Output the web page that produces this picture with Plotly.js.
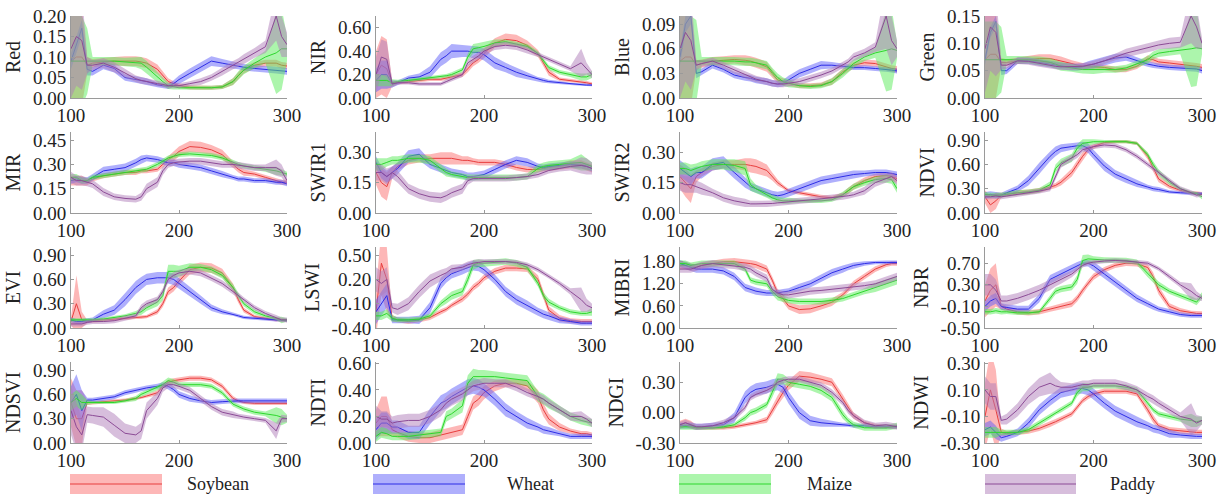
<!DOCTYPE html>
<html>
<head>
<meta charset="utf-8">
<script src="https://cdn.plot.ly/plotly-3.0.1.min.js"></script>
<style>html,body{margin:0;padding:0;background:#fff;}#chart{width:1222px;height:495px;}</style>
</head>
<body>
<div id="chart"></div>
<script>
// ---------- DATA ----------
const DAYS = [100,105,110,115,120,130,140,150,160,165,170,180,185,190,195,200,210,220,230,240,250,255,260,270,280,290,295,300];
const CROPS = ['Soybean','Wheat','Maize','Paddy'];
const INDICES = ['Red','NIR','Blue','Green','MIR','SWIR1','SWIR2','NDVI','EVI','LSWI','MIBRI','NBR','NDSVI','NDTI','NDGI','NDWI'];

const RED_SOY = [0.09,0.10,0.10,0.08,0.085,0.088,0.09,0.09,0.09,0.088,0.085,0.07,0.055,0.04,0.035,0.03,0.026,0.025,0.025,0.027,0.04,0.055,0.068,0.08,0.085,0.085,0.08,0.078];
const RED_SOY_SD = [0.12,0.12,0.12,0.02,0.01,0.01,0.01,0.012,0.012,0.012,0.012,0.012,0.01,0.008,0.006,0.005,0.005,0.005,0.005,0.005,0.008,0.008,0.008,0.008,0.008,0.008,0.008,0.008];
const RED_WHE = [0.09,0.13,0.17,0.07,0.065,0.08,0.072,0.05,0.045,0.042,0.04,0.032,0.03,0.028,0.035,0.045,0.06,0.075,0.09,0.085,0.08,0.078,0.075,0.072,0.07,0.068,0.067,0.065];
const RED_WHE_SD = [0.02,0.02,0.02,0.015,0.01,0.01,0.01,0.008,0.008,0.008,0.008,0.006,0.006,0.006,0.008,0.01,0.012,0.012,0.012,0.01,0.008,0.008,0.008,0.008,0.008,0.008,0.008,0.008];
const RED_MAI = [0.09,0.09,0.09,0.09,0.09,0.09,0.09,0.088,0.087,0.085,0.075,0.05,0.04,0.03,0.027,0.025,0.025,0.025,0.025,0.027,0.04,0.055,0.068,0.085,0.1,0.11,0.12,0.12];
const RED_MAI_SD = [0.11,0.11,0.11,0.08,0.01,0.01,0.01,0.01,0.012,0.015,0.015,0.012,0.01,0.008,0.006,0.005,0.005,0.005,0.005,0.005,0.008,0.01,0.01,0.012,0.015,0.1,0.1,0.03];
const RED_PAD = [0.12,0.15,0.14,0.08,0.08,0.085,0.075,0.06,0.047,0.043,0.04,0.035,0.033,0.03,0.03,0.03,0.035,0.04,0.05,0.065,0.08,0.087,0.095,0.11,0.125,0.2,0.15,0.13];
const RED_PAD_SD = [0.12,0.12,0.12,0.02,0.012,0.012,0.012,0.01,0.008,0.008,0.008,0.006,0.006,0.006,0.006,0.006,0.006,0.008,0.008,0.01,0.01,0.01,0.012,0.012,0.015,0.06,0.05,0.03];

const NIR_SOY = [0.2,0.28,0.25,0.12,0.13,0.14,0.15,0.16,0.16,0.17,0.18,0.2,0.25,0.3,0.33,0.38,0.47,0.5,0.49,0.45,0.38,0.3,0.22,0.16,0.15,0.14,0.13,0.12];
const NIR_SOY_SD = [0.2,0.25,0.25,0.02,0.015,0.015,0.015,0.015,0.015,0.015,0.02,0.02,0.03,0.03,0.03,0.04,0.04,0.05,0.05,0.04,0.03,0.03,0.03,0.015,0.015,0.015,0.015,0.015];
const NIR_WHE = [0.15,0.2,0.2,0.12,0.13,0.17,0.18,0.22,0.33,0.36,0.4,0.4,0.4,0.39,0.39,0.37,0.3,0.26,0.22,0.19,0.16,0.15,0.14,0.13,0.12,0.115,0.11,0.11];
const NIR_WHE_SD = [0.1,0.12,0.12,0.03,0.02,0.02,0.03,0.05,0.06,0.06,0.06,0.05,0.05,0.05,0.05,0.05,0.05,0.04,0.04,0.03,0.02,0.02,0.015,0.015,0.01,0.01,0.01,0.01];
const NIR_MAI = [0.15,0.15,0.15,0.13,0.14,0.15,0.16,0.17,0.18,0.19,0.2,0.24,0.35,0.42,0.43,0.44,0.47,0.48,0.46,0.44,0.38,0.32,0.26,0.22,0.2,0.18,0.18,0.2];
const NIR_MAI_SD = [0.05,0.05,0.05,0.03,0.015,0.015,0.015,0.015,0.015,0.015,0.02,0.02,0.03,0.04,0.04,0.04,0.03,0.02,0.02,0.02,0.02,0.02,0.02,0.02,0.02,0.03,0.03,0.03];
const NIR_PAD = [0.2,0.35,0.33,0.12,0.13,0.13,0.12,0.12,0.12,0.14,0.16,0.2,0.3,0.33,0.36,0.4,0.44,0.45,0.44,0.41,0.37,0.35,0.33,0.29,0.25,0.3,0.25,0.2];
const NIR_PAD_SD = [0.15,0.15,0.15,0.03,0.015,0.015,0.015,0.015,0.015,0.02,0.02,0.02,0.03,0.03,0.03,0.03,0.03,0.03,0.03,0.03,0.02,0.02,0.02,0.02,0.02,0.12,0.05,0.03];

const BLU_SOY = [0.045,0.05,0.05,0.04,0.042,0.045,0.046,0.047,0.046,0.045,0.043,0.038,0.03,0.022,0.02,0.018,0.015,0.015,0.016,0.02,0.032,0.036,0.04,0.043,0.042,0.038,0.036,0.035];
const BLU_SOY_SD = [0.06,0.06,0.06,0.006,0.005,0.005,0.005,0.005,0.006,0.006,0.006,0.006,0.005,0.004,0.004,0.003,0.003,0.003,0.003,0.004,0.004,0.004,0.004,0.004,0.004,0.004,0.004,0.004];
const BLU_WHE = [0.05,0.09,0.1,0.03,0.032,0.04,0.035,0.028,0.025,0.024,0.022,0.02,0.018,0.017,0.018,0.022,0.03,0.035,0.04,0.04,0.039,0.038,0.037,0.037,0.036,0.035,0.034,0.033];
const BLU_WHE_SD = [0.01,0.01,0.01,0.006,0.004,0.004,0.004,0.004,0.004,0.004,0.004,0.004,0.004,0.004,0.004,0.005,0.005,0.005,0.005,0.004,0.003,0.003,0.003,0.003,0.003,0.003,0.003,0.003];
const BLU_MAI = [0.045,0.045,0.045,0.045,0.045,0.045,0.045,0.045,0.044,0.044,0.043,0.04,0.032,0.025,0.02,0.018,0.015,0.014,0.015,0.02,0.03,0.036,0.042,0.05,0.055,0.058,0.06,0.058];
const BLU_MAI_SD = [0.055,0.055,0.055,0.05,0.005,0.005,0.005,0.005,0.005,0.005,0.005,0.005,0.005,0.005,0.005,0.005,0.003,0.003,0.003,0.004,0.005,0.005,0.005,0.005,0.006,0.05,0.05,0.01];
const BLU_PAD = [0.06,0.08,0.07,0.04,0.042,0.045,0.04,0.034,0.028,0.025,0.023,0.02,0.018,0.017,0.017,0.018,0.02,0.024,0.028,0.033,0.04,0.044,0.05,0.055,0.062,0.1,0.07,0.06];
const BLU_PAD_SD = [0.06,0.06,0.06,0.006,0.004,0.004,0.004,0.004,0.004,0.004,0.004,0.004,0.004,0.004,0.004,0.004,0.004,0.004,0.004,0.004,0.004,0.004,0.005,0.005,0.006,0.04,0.03,0.01];

const GRN_SOY = [0.07,0.08,0.08,0.065,0.065,0.068,0.07,0.072,0.072,0.07,0.068,0.063,0.06,0.058,0.057,0.057,0.056,0.052,0.052,0.058,0.072,0.07,0.066,0.064,0.062,0.06,0.058,0.056];
const GRN_SOY_SD = [0.08,0.08,0.08,0.008,0.006,0.006,0.006,0.008,0.008,0.008,0.008,0.006,0.006,0.006,0.006,0.006,0.005,0.005,0.005,0.005,0.006,0.006,0.006,0.006,0.006,0.006,0.006,0.006];
const GRN_WHE = [0.07,0.12,0.14,0.05,0.05,0.068,0.068,0.065,0.062,0.06,0.058,0.056,0.056,0.057,0.06,0.062,0.068,0.073,0.075,0.068,0.062,0.06,0.058,0.056,0.055,0.054,0.053,0.05];
const GRN_WHE_SD = [0.01,0.01,0.01,0.008,0.006,0.006,0.006,0.006,0.006,0.006,0.006,0.006,0.006,0.006,0.007,0.008,0.008,0.008,0.007,0.006,0.005,0.005,0.005,0.005,0.005,0.005,0.005,0.005];
const GRN_MAI = [0.07,0.07,0.07,0.07,0.07,0.07,0.07,0.068,0.065,0.062,0.058,0.055,0.053,0.052,0.052,0.052,0.052,0.052,0.055,0.062,0.07,0.078,0.082,0.085,0.087,0.09,0.092,0.09];
const GRN_MAI_SD = [0.07,0.07,0.07,0.06,0.007,0.007,0.007,0.008,0.008,0.008,0.008,0.007,0.007,0.007,0.008,0.008,0.006,0.006,0.006,0.006,0.007,0.007,0.007,0.007,0.007,0.07,0.07,0.01];
const GRN_PAD = [0.09,0.13,0.12,0.06,0.06,0.068,0.067,0.063,0.06,0.058,0.057,0.057,0.057,0.058,0.06,0.062,0.068,0.075,0.082,0.087,0.092,0.094,0.097,0.1,0.102,0.15,0.13,0.1];
const GRN_PAD_SD = [0.08,0.08,0.08,0.008,0.006,0.006,0.006,0.006,0.006,0.006,0.006,0.006,0.006,0.006,0.006,0.006,0.006,0.006,0.008,0.008,0.008,0.008,0.008,0.01,0.01,0.05,0.04,0.01];

const MIR_SOY = [0.2,0.2,0.2,0.19,0.21,0.23,0.24,0.25,0.25,0.26,0.26,0.27,0.3,0.33,0.35,0.38,0.41,0.405,0.39,0.36,0.3,0.27,0.25,0.24,0.22,0.2,0.19,0.19];
const MIR_SOY_SD = [0.03,0.03,0.03,0.02,0.015,0.015,0.015,0.015,0.015,0.015,0.015,0.015,0.02,0.02,0.03,0.03,0.035,0.035,0.03,0.03,0.02,0.02,0.02,0.015,0.015,0.015,0.015,0.015];
const MIR_WHE = [0.2,0.21,0.2,0.2,0.22,0.26,0.27,0.28,0.31,0.33,0.34,0.33,0.32,0.31,0.31,0.3,0.29,0.28,0.26,0.24,0.22,0.21,0.21,0.2,0.2,0.19,0.19,0.18];
const MIR_WHE_SD = [0.02,0.02,0.02,0.02,0.02,0.025,0.025,0.025,0.025,0.025,0.02,0.02,0.02,0.02,0.02,0.02,0.02,0.02,0.02,0.02,0.015,0.015,0.015,0.015,0.015,0.015,0.015,0.015];
const MIR_MAI = [0.22,0.22,0.2,0.2,0.22,0.23,0.24,0.25,0.26,0.265,0.27,0.3,0.32,0.34,0.35,0.36,0.365,0.36,0.355,0.34,0.31,0.3,0.29,0.28,0.27,0.26,0.25,0.24];
const MIR_MAI_SD = [0.02,0.02,0.02,0.015,0.015,0.015,0.015,0.015,0.015,0.015,0.015,0.015,0.015,0.015,0.015,0.015,0.015,0.015,0.015,0.015,0.015,0.015,0.015,0.015,0.015,0.025,0.02,0.015];
const MIR_PAD = [0.22,0.2,0.2,0.19,0.18,0.13,0.1,0.09,0.085,0.1,0.15,0.19,0.26,0.3,0.31,0.315,0.32,0.32,0.31,0.3,0.3,0.295,0.29,0.28,0.28,0.28,0.26,0.2];
const MIR_PAD_SD = [0.035,0.03,0.03,0.025,0.025,0.025,0.02,0.02,0.02,0.025,0.03,0.03,0.025,0.02,0.02,0.02,0.02,0.02,0.02,0.02,0.02,0.02,0.02,0.02,0.02,0.05,0.04,0.03];

const SW1_SOY = [0.2,0.15,0.13,0.2,0.23,0.26,0.27,0.27,0.27,0.27,0.27,0.26,0.26,0.255,0.25,0.25,0.25,0.24,0.225,0.215,0.215,0.22,0.225,0.23,0.24,0.24,0.23,0.22];
const SW1_SOY_SD = [0.06,0.07,0.07,0.03,0.02,0.02,0.02,0.02,0.03,0.03,0.03,0.02,0.02,0.015,0.015,0.015,0.015,0.015,0.015,0.015,0.015,0.015,0.015,0.015,0.02,0.02,0.02,0.02];
const SW1_WHE = [0.25,0.2,0.18,0.2,0.22,0.28,0.29,0.24,0.22,0.21,0.2,0.19,0.18,0.18,0.185,0.19,0.215,0.24,0.26,0.25,0.23,0.225,0.23,0.235,0.24,0.235,0.23,0.22];
const SW1_WHE_SD = [0.03,0.03,0.03,0.03,0.03,0.03,0.03,0.02,0.02,0.02,0.02,0.02,0.02,0.02,0.02,0.02,0.02,0.02,0.02,0.02,0.015,0.015,0.015,0.015,0.015,0.015,0.015,0.015];
const SW1_MAI = [0.24,0.24,0.25,0.26,0.26,0.27,0.27,0.26,0.22,0.2,0.19,0.18,0.175,0.175,0.175,0.175,0.175,0.175,0.175,0.18,0.22,0.23,0.235,0.24,0.245,0.25,0.24,0.23];
const SW1_MAI_SD = [0.03,0.03,0.02,0.02,0.02,0.02,0.02,0.02,0.02,0.02,0.015,0.015,0.015,0.015,0.015,0.015,0.015,0.015,0.015,0.015,0.02,0.02,0.02,0.02,0.02,0.04,0.03,0.02];
const SW1_PAD = [0.2,0.2,0.18,0.2,0.18,0.12,0.095,0.08,0.075,0.085,0.1,0.12,0.16,0.17,0.17,0.17,0.17,0.17,0.175,0.18,0.19,0.2,0.21,0.22,0.23,0.235,0.23,0.22];
const SW1_PAD_SD = [0.04,0.04,0.04,0.03,0.03,0.025,0.025,0.025,0.025,0.025,0.025,0.025,0.02,0.015,0.015,0.015,0.015,0.015,0.015,0.015,0.015,0.015,0.015,0.015,0.02,0.04,0.04,0.03];

const SW2_SOY = [0.18,0.15,0.12,0.18,0.2,0.23,0.24,0.24,0.24,0.235,0.23,0.21,0.18,0.15,0.13,0.11,0.1,0.09,0.08,0.075,0.09,0.11,0.13,0.16,0.18,0.185,0.18,0.17];
const SW2_SOY_SD = [0.06,0.07,0.07,0.03,0.02,0.02,0.02,0.02,0.03,0.035,0.035,0.03,0.02,0.015,0.01,0.01,0.01,0.01,0.01,0.01,0.01,0.015,0.015,0.015,0.015,0.015,0.02,0.02];
const SW2_WHE = [0.22,0.2,0.18,0.2,0.2,0.24,0.25,0.2,0.15,0.13,0.12,0.1,0.09,0.085,0.09,0.1,0.12,0.14,0.16,0.17,0.18,0.185,0.19,0.195,0.2,0.2,0.195,0.19];
const SW2_WHE_SD = [0.04,0.04,0.04,0.03,0.03,0.03,0.03,0.03,0.025,0.02,0.02,0.02,0.02,0.02,0.02,0.02,0.02,0.02,0.02,0.02,0.02,0.02,0.02,0.015,0.015,0.015,0.015,0.015];
const SW2_MAI = [0.22,0.22,0.21,0.22,0.23,0.24,0.24,0.235,0.22,0.14,0.12,0.09,0.075,0.065,0.06,0.06,0.06,0.06,0.06,0.065,0.09,0.11,0.13,0.15,0.165,0.17,0.165,0.12];
const SW2_MAI_SD = [0.03,0.03,0.03,0.025,0.025,0.025,0.025,0.03,0.035,0.03,0.02,0.015,0.015,0.015,0.015,0.015,0.01,0.01,0.01,0.01,0.015,0.015,0.015,0.015,0.015,0.02,0.02,0.02];
const SW2_PAD = [0.15,0.14,0.14,0.13,0.12,0.1,0.075,0.06,0.05,0.045,0.045,0.045,0.047,0.05,0.052,0.055,0.06,0.065,0.07,0.075,0.08,0.085,0.09,0.11,0.15,0.17,0.18,0.16];
const SW2_PAD_SD = [0.04,0.04,0.04,0.03,0.03,0.02,0.02,0.02,0.02,0.015,0.015,0.015,0.015,0.015,0.015,0.015,0.015,0.015,0.015,0.015,0.015,0.015,0.015,0.02,0.02,0.02,0.02,0.02];

const NDVI_SOY = [0.2,0.1,0.15,0.22,0.23,0.25,0.26,0.28,0.32,0.34,0.38,0.5,0.6,0.7,0.78,0.82,0.87,0.88,0.88,0.86,0.7,0.55,0.42,0.33,0.28,0.25,0.25,0.24];
const NDVI_SOY_SD = [0.08,0.1,0.1,0.03,0.03,0.03,0.03,0.03,0.03,0.03,0.04,0.05,0.05,0.05,0.04,0.03,0.02,0.02,0.02,0.02,0.04,0.04,0.04,0.03,0.02,0.02,0.02,0.02];
const NDVI_WHE = [0.22,0.23,0.22,0.22,0.25,0.3,0.4,0.55,0.7,0.76,0.8,0.82,0.83,0.83,0.8,0.72,0.58,0.48,0.42,0.36,0.32,0.3,0.29,0.26,0.25,0.24,0.24,0.24];
const NDVI_WHE_SD = [0.04,0.04,0.04,0.03,0.03,0.04,0.06,0.07,0.06,0.06,0.05,0.04,0.04,0.05,0.06,0.06,0.06,0.05,0.05,0.04,0.03,0.03,0.03,0.02,0.02,0.02,0.02,0.02];
const NDVI_MAI = [0.23,0.22,0.22,0.22,0.23,0.25,0.26,0.28,0.35,0.55,0.62,0.68,0.8,0.86,0.87,0.88,0.88,0.88,0.88,0.86,0.72,0.6,0.5,0.38,0.3,0.25,0.24,0.2];
const NDVI_MAI_SD = [0.03,0.03,0.03,0.03,0.03,0.03,0.03,0.03,0.04,0.05,0.05,0.05,0.05,0.05,0.04,0.03,0.02,0.02,0.02,0.02,0.03,0.04,0.04,0.03,0.02,0.02,0.02,0.03];
const NDVI_PAD = [0.2,0.2,0.21,0.2,0.21,0.23,0.25,0.27,0.3,0.45,0.6,0.68,0.72,0.78,0.8,0.82,0.84,0.83,0.78,0.7,0.6,0.55,0.5,0.4,0.3,0.25,0.22,0.23];
const NDVI_PAD_SD = [0.03,0.03,0.03,0.03,0.03,0.03,0.03,0.03,0.03,0.04,0.04,0.04,0.04,0.03,0.03,0.03,0.03,0.03,0.03,0.03,0.03,0.03,0.03,0.03,0.03,0.03,0.03,0.03];

const EVI_SOY = [0.08,0.3,0.1,0.08,0.09,0.1,0.11,0.12,0.13,0.13,0.14,0.2,0.3,0.45,0.5,0.58,0.72,0.75,0.74,0.68,0.5,0.35,0.22,0.14,0.12,0.1,0.1,0.09];
const EVI_SOY_SD = [0.05,0.35,0.1,0.02,0.02,0.02,0.02,0.02,0.02,0.02,0.02,0.03,0.04,0.05,0.05,0.05,0.06,0.06,0.06,0.05,0.05,0.04,0.03,0.02,0.02,0.02,0.02,0.02];
const EVI_WHE = [0.1,0.08,0.08,0.09,0.1,0.17,0.22,0.35,0.5,0.55,0.6,0.62,0.62,0.62,0.6,0.55,0.45,0.35,0.25,0.2,0.17,0.15,0.13,0.12,0.11,0.1,0.1,0.09];
const EVI_WHE_SD = [0.03,0.03,0.03,0.03,0.03,0.05,0.06,0.08,0.08,0.08,0.07,0.07,0.07,0.07,0.07,0.07,0.06,0.05,0.04,0.03,0.02,0.02,0.02,0.02,0.02,0.02,0.02,0.02];
const EVI_MAI = [0.1,0.1,0.1,0.1,0.1,0.11,0.13,0.15,0.18,0.2,0.25,0.32,0.4,0.7,0.7,0.7,0.75,0.75,0.72,0.65,0.5,0.4,0.3,0.2,0.15,0.12,0.1,0.1];
const EVI_MAI_SD = [0.02,0.02,0.02,0.02,0.02,0.02,0.02,0.02,0.03,0.04,0.04,0.05,0.06,0.08,0.08,0.07,0.05,0.04,0.04,0.04,0.04,0.04,0.03,0.03,0.02,0.02,0.04,0.02];
const EVI_PAD = [0.05,0.05,0.05,0.07,0.08,0.08,0.09,0.12,0.15,0.25,0.3,0.35,0.45,0.6,0.65,0.68,0.7,0.68,0.62,0.55,0.45,0.4,0.35,0.25,0.18,0.13,0.1,0.1];
const EVI_PAD_SD = [0.03,0.03,0.03,0.03,0.03,0.03,0.03,0.03,0.03,0.04,0.04,0.04,0.04,0.04,0.04,0.04,0.04,0.04,0.04,0.04,0.04,0.03,0.03,0.03,0.03,0.03,0.03,0.03];

const LSW_SOY = [-0.2,0.4,0.2,-0.28,-0.3,-0.32,-0.3,-0.27,-0.2,-0.17,-0.12,-0.04,0.02,0.1,0.15,0.22,0.3,0.34,0.34,0.33,0.2,0.0,-0.18,-0.28,-0.31,-0.32,-0.32,-0.32];
const LSW_SOY_SD = [0.3,0.4,0.4,0.04,0.03,0.03,0.03,0.03,0.03,0.03,0.03,0.04,0.04,0.04,0.04,0.04,0.04,0.04,0.04,0.04,0.05,0.05,0.05,0.04,0.03,0.03,0.03,0.03];
const LSW_WHE = [-0.2,-0.1,0.0,-0.3,-0.3,-0.3,-0.3,-0.15,0.15,0.22,0.27,0.32,0.35,0.37,0.36,0.32,0.2,0.05,-0.05,-0.12,-0.2,-0.23,-0.25,-0.3,-0.32,-0.34,-0.34,-0.34];
const LSW_WHE_SD = [0.15,0.15,0.15,0.04,0.04,0.04,0.05,0.07,0.07,0.06,0.06,0.06,0.06,0.06,0.06,0.06,0.06,0.06,0.06,0.06,0.05,0.05,0.05,0.04,0.03,0.03,0.03,0.03];
const LSW_MAI = [-0.25,-0.25,-0.22,-0.28,-0.3,-0.3,-0.29,-0.25,-0.1,-0.05,0.0,0.05,0.2,0.38,0.4,0.4,0.41,0.42,0.4,0.35,0.15,0.0,-0.08,-0.15,-0.2,-0.22,-0.22,-0.2];
const LSW_MAI_SD = [0.05,0.05,0.05,0.04,0.03,0.03,0.03,0.03,0.04,0.05,0.05,0.05,0.06,0.06,0.05,0.04,0.04,0.04,0.04,0.04,0.04,0.04,0.04,0.03,0.03,0.03,0.03,0.05];
const LSW_PAD = [0.2,0.15,0.2,-0.15,-0.17,-0.1,0.05,0.18,0.25,0.28,0.33,0.35,0.38,0.4,0.41,0.42,0.42,0.42,0.41,0.38,0.32,0.28,0.24,0.15,0.05,-0.05,-0.12,-0.15];
const LSW_PAD_SD = [0.15,0.15,0.15,0.06,0.07,0.08,0.08,0.08,0.07,0.06,0.05,0.04,0.04,0.04,0.04,0.03,0.03,0.03,0.03,0.03,0.03,0.03,0.03,0.03,0.04,0.15,0.08,0.05];

const MIB_SOY = [1.7,1.7,1.65,1.65,1.7,1.75,1.8,1.8,1.78,1.75,1.72,1.6,1.3,0.95,0.8,0.6,0.5,0.52,0.6,0.7,0.9,1.05,1.2,1.4,1.6,1.72,1.75,1.75];
const MIB_SOY_SD = [0.1,0.1,0.1,0.08,0.08,0.08,0.08,0.1,0.1,0.1,0.1,0.1,0.1,0.1,0.1,0.1,0.12,0.12,0.1,0.1,0.08,0.08,0.08,0.08,0.08,0.06,0.06,0.06];
const MIB_WHE = [1.75,1.7,1.65,1.6,1.6,1.6,1.55,1.4,1.1,1.05,1.0,0.95,0.95,0.95,0.98,1.0,1.1,1.2,1.35,1.5,1.6,1.65,1.7,1.75,1.78,1.78,1.78,1.78];
const MIB_WHE_SD = [0.1,0.1,0.1,0.1,0.1,0.1,0.1,0.1,0.1,0.1,0.1,0.08,0.08,0.08,0.08,0.08,0.1,0.1,0.1,0.1,0.1,0.08,0.08,0.06,0.05,0.05,0.05,0.05];
const MIB_MAI = [1.75,1.75,1.7,1.72,1.75,1.75,1.75,1.75,1.6,1.3,1.25,1.2,1.0,0.85,0.8,0.75,0.72,0.72,0.72,0.75,0.8,0.85,0.9,1.0,1.1,1.2,1.25,1.3];
const MIB_MAI_SD = [0.08,0.08,0.08,0.08,0.08,0.08,0.08,0.08,0.08,0.08,0.08,0.08,0.1,0.1,0.1,0.08,0.08,0.08,0.08,0.08,0.08,0.08,0.08,0.08,0.12,0.12,0.12,0.12];
const MIB_PAD = [1.6,1.6,1.6,1.65,1.7,1.75,1.72,1.7,1.65,1.6,1.5,1.35,1.05,0.95,0.9,0.9,0.95,1.0,1.02,1.05,1.1,1.1,1.12,1.15,1.2,1.3,1.35,1.4];
const MIB_PAD_SD = [0.1,0.1,0.1,0.1,0.1,0.1,0.1,0.1,0.1,0.1,0.1,0.1,0.1,0.1,0.1,0.1,0.1,0.1,0.1,0.1,0.1,0.1,0.1,0.1,0.1,0.1,0.1,0.1];

const NBR_SOY = [0.0,0.2,0.3,-0.1,-0.15,-0.2,-0.22,-0.2,-0.15,-0.12,-0.1,-0.05,0.05,0.2,0.33,0.45,0.58,0.66,0.7,0.69,0.62,0.45,0.2,-0.1,-0.18,-0.22,-0.23,-0.23];
const NBR_SOY_SD = [0.3,0.4,0.4,0.06,0.05,0.05,0.05,0.05,0.05,0.05,0.05,0.06,0.06,0.06,0.06,0.06,0.05,0.05,0.05,0.05,0.06,0.08,0.08,0.06,0.05,0.04,0.04,0.04];
const NBR_WHE = [-0.1,0.0,0.05,-0.1,-0.12,-0.15,-0.15,0.05,0.4,0.45,0.5,0.6,0.65,0.7,0.7,0.65,0.5,0.35,0.2,0.05,-0.05,-0.1,-0.15,-0.2,-0.25,-0.27,-0.27,-0.27];
const NBR_WHE_SD = [0.1,0.1,0.1,0.06,0.06,0.06,0.06,0.08,0.08,0.08,0.08,0.07,0.07,0.06,0.06,0.08,0.08,0.08,0.08,0.07,0.06,0.06,0.05,0.05,0.04,0.04,0.04,0.04];
const NBR_MAI = [-0.2,-0.2,-0.18,-0.2,-0.2,-0.22,-0.22,-0.2,0.05,0.18,0.22,0.26,0.4,0.75,0.78,0.77,0.76,0.76,0.75,0.72,0.5,0.4,0.3,0.18,0.1,0.03,-0.02,0.1];
const NBR_MAI_SD = [0.05,0.05,0.05,0.05,0.04,0.04,0.04,0.04,0.06,0.06,0.06,0.06,0.08,0.1,0.08,0.06,0.05,0.05,0.05,0.05,0.06,0.06,0.06,0.05,0.05,0.06,0.06,0.06];
const NBR_PAD = [0.3,0.3,0.2,0.0,0.0,0.05,0.12,0.2,0.3,0.35,0.4,0.5,0.58,0.66,0.7,0.72,0.74,0.75,0.74,0.72,0.7,0.65,0.6,0.45,0.3,0.18,0.1,0.05];
const NBR_PAD_SD = [0.2,0.2,0.2,0.1,0.1,0.1,0.1,0.1,0.1,0.08,0.08,0.06,0.05,0.04,0.04,0.04,0.04,0.04,0.04,0.04,0.04,0.04,0.04,0.05,0.05,0.15,0.08,0.05];

const NDS_SOY = [0.5,0.3,0.3,0.5,0.5,0.51,0.52,0.53,0.55,0.56,0.58,0.62,0.7,0.75,0.77,0.78,0.8,0.8,0.78,0.7,0.55,0.52,0.5,0.49,0.49,0.49,0.49,0.49];
const NDS_SOY_SD = [0.3,0.35,0.35,0.03,0.02,0.02,0.02,0.02,0.02,0.02,0.02,0.03,0.03,0.03,0.03,0.03,0.03,0.03,0.03,0.03,0.03,0.02,0.02,0.02,0.02,0.02,0.02,0.02];
const NDS_WHE = [0.5,0.6,0.4,0.53,0.53,0.55,0.57,0.62,0.65,0.67,0.68,0.7,0.72,0.7,0.66,0.6,0.55,0.52,0.5,0.51,0.52,0.52,0.52,0.52,0.52,0.52,0.52,0.52];
const NDS_WHE_SD = [0.2,0.25,0.25,0.03,0.03,0.03,0.03,0.03,0.03,0.03,0.03,0.03,0.03,0.04,0.04,0.04,0.04,0.03,0.03,0.03,0.03,0.03,0.03,0.03,0.03,0.03,0.03,0.03];
const NDS_MAI = [0.5,0.55,0.5,0.5,0.5,0.5,0.5,0.52,0.55,0.6,0.63,0.68,0.72,0.77,0.75,0.72,0.72,0.72,0.7,0.62,0.48,0.45,0.42,0.38,0.36,0.34,0.32,0.3];
const NDS_MAI_SD = [0.1,0.1,0.1,0.03,0.02,0.02,0.02,0.02,0.03,0.03,0.03,0.03,0.04,0.04,0.04,0.03,0.03,0.03,0.03,0.03,0.03,0.03,0.03,0.03,0.03,0.1,0.1,0.05];
const NDS_PAD = [0.4,0.2,0.1,0.35,0.34,0.32,0.22,0.12,0.1,0.15,0.4,0.55,0.68,0.72,0.72,0.7,0.65,0.55,0.45,0.38,0.35,0.33,0.32,0.3,0.28,0.15,0.3,0.3];
const NDS_PAD_SD = [0.3,0.3,0.2,0.1,0.1,0.12,0.14,0.12,0.1,0.1,0.1,0.08,0.05,0.04,0.04,0.04,0.04,0.04,0.04,0.04,0.04,0.03,0.03,0.03,0.03,0.1,0.05,0.04];

const NDT_SOY = [0.15,0.2,0.2,0.1,0.08,0.05,0.04,0.04,0.06,0.07,0.08,0.1,0.2,0.3,0.33,0.38,0.43,0.45,0.45,0.43,0.35,0.25,0.18,0.12,0.09,0.07,0.07,0.06];
const NDT_SOY_SD = [0.1,0.15,0.15,0.05,0.04,0.04,0.04,0.04,0.04,0.04,0.04,0.04,0.05,0.05,0.05,0.05,0.04,0.03,0.03,0.04,0.05,0.05,0.04,0.03,0.02,0.02,0.02,0.02];
const NDT_WHE = [0.1,0.15,0.15,0.12,0.12,0.08,0.08,0.2,0.3,0.32,0.35,0.4,0.42,0.43,0.42,0.4,0.33,0.25,0.2,0.15,0.12,0.1,0.09,0.07,0.05,0.05,0.05,0.05];
const NDT_WHE_SD = [0.08,0.08,0.08,0.05,0.05,0.05,0.05,0.06,0.06,0.06,0.06,0.06,0.06,0.06,0.06,0.05,0.05,0.05,0.04,0.04,0.03,0.03,0.03,0.02,0.02,0.02,0.02,0.02];
const NDT_MAI = [0.05,0.08,0.07,0.05,0.05,0.05,0.06,0.07,0.08,0.2,0.22,0.28,0.45,0.5,0.5,0.5,0.5,0.49,0.48,0.47,0.35,0.33,0.3,0.25,0.2,0.17,0.16,0.15];
const NDT_MAI_SD = [0.04,0.04,0.04,0.03,0.03,0.03,0.03,0.03,0.03,0.04,0.04,0.05,0.06,0.06,0.05,0.05,0.04,0.04,0.04,0.04,0.04,0.04,0.04,0.03,0.03,0.03,0.03,0.03];
const NDT_PAD = [0.2,0.18,0.18,0.15,0.16,0.17,0.17,0.2,0.25,0.3,0.33,0.37,0.4,0.43,0.44,0.45,0.45,0.45,0.42,0.38,0.35,0.33,0.3,0.25,0.2,0.2,0.18,0.15];
const NDT_PAD_SD = [0.08,0.06,0.06,0.05,0.05,0.05,0.05,0.05,0.05,0.05,0.05,0.05,0.04,0.04,0.04,0.04,0.03,0.03,0.03,0.03,0.03,0.03,0.03,0.03,0.03,0.04,0.03,0.03];

const NDG_SOY = [-0.12,-0.1,-0.12,-0.15,-0.15,-0.15,-0.15,-0.14,-0.12,-0.11,-0.1,-0.07,0.02,0.12,0.2,0.27,0.36,0.35,0.33,0.3,0.14,0.05,-0.03,-0.1,-0.13,-0.14,-0.14,-0.14];
const NDG_SOY_SD = [0.04,0.04,0.04,0.02,0.02,0.02,0.02,0.02,0.02,0.02,0.02,0.03,0.04,0.05,0.05,0.05,0.05,0.05,0.04,0.04,0.04,0.04,0.03,0.02,0.02,0.02,0.02,0.02];
const NDG_WHE = [-0.13,-0.13,-0.13,-0.14,-0.14,-0.13,-0.12,-0.05,0.15,0.2,0.23,0.25,0.27,0.28,0.25,0.15,0.0,-0.08,-0.1,-0.11,-0.12,-0.12,-0.13,-0.13,-0.14,-0.14,-0.14,-0.14];
const NDG_WHE_SD = [0.03,0.03,0.03,0.03,0.03,0.03,0.03,0.05,0.06,0.06,0.06,0.06,0.06,0.06,0.06,0.06,0.06,0.05,0.04,0.03,0.02,0.02,0.02,0.02,0.02,0.02,0.02,0.02];
const NDG_MAI = [-0.14,-0.14,-0.14,-0.15,-0.15,-0.15,-0.14,-0.12,-0.05,0.0,0.02,0.08,0.2,0.33,0.33,0.3,0.28,0.26,0.22,0.15,-0.02,-0.08,-0.12,-0.15,-0.15,-0.15,-0.14,-0.13];
const NDG_MAI_SD = [0.03,0.03,0.03,0.02,0.02,0.02,0.02,0.02,0.03,0.03,0.03,0.03,0.05,0.06,0.05,0.04,0.04,0.04,0.04,0.04,0.04,0.03,0.03,0.03,0.03,0.03,0.03,0.03];
const NDG_PAD = [-0.12,-0.1,-0.12,-0.14,-0.14,-0.13,-0.1,-0.05,0.05,0.15,0.18,0.22,0.25,0.3,0.32,0.33,0.33,0.3,0.27,0.2,0.1,0.02,-0.03,-0.1,-0.13,-0.12,-0.13,-0.14];
const NDG_PAD_SD = [0.03,0.03,0.03,0.03,0.03,0.03,0.03,0.03,0.03,0.03,0.03,0.03,0.03,0.03,0.03,0.03,0.03,0.03,0.03,0.03,0.03,0.03,0.03,0.03,0.03,0.03,0.03,0.03];

const NDW_SOY = [-0.1,0.1,-0.05,-0.22,-0.23,-0.22,-0.21,-0.19,-0.16,-0.14,-0.12,-0.08,-0.03,0.02,0.05,0.07,0.09,0.09,0.09,0.07,-0.05,-0.12,-0.17,-0.2,-0.21,-0.22,-0.22,-0.22];
const NDW_SOY_SD = [0.25,0.3,0.3,0.03,0.02,0.02,0.02,0.02,0.02,0.02,0.02,0.02,0.02,0.02,0.02,0.02,0.02,0.02,0.02,0.02,0.03,0.03,0.02,0.02,0.02,0.02,0.02,0.02];
const NDW_WHE = [-0.2,-0.18,-0.22,-0.26,-0.25,-0.22,-0.15,-0.05,0.02,0.05,0.08,0.1,0.11,0.11,0.1,0.07,0.0,-0.06,-0.1,-0.14,-0.17,-0.19,-0.2,-0.23,-0.24,-0.25,-0.25,-0.25];
const NDW_WHE_SD = [0.05,0.05,0.05,0.03,0.03,0.03,0.04,0.04,0.04,0.04,0.04,0.04,0.04,0.04,0.04,0.04,0.04,0.04,0.04,0.04,0.03,0.03,0.03,0.03,0.02,0.02,0.02,0.02];
const NDW_MAI = [-0.22,-0.22,-0.22,-0.22,-0.22,-0.22,-0.2,-0.15,-0.1,-0.07,-0.05,0.0,0.08,0.12,0.12,0.13,0.13,0.13,0.12,0.1,0.0,-0.05,-0.08,-0.1,-0.12,-0.13,-0.14,-0.13];
const NDW_MAI_SD = [0.04,0.04,0.04,0.02,0.02,0.02,0.02,0.02,0.02,0.02,0.02,0.02,0.03,0.03,0.03,0.02,0.02,0.02,0.02,0.02,0.02,0.02,0.02,0.02,0.02,0.05,0.04,0.03];
const NDW_PAD = [0.1,0.05,0.05,-0.13,-0.12,-0.05,0.05,0.12,0.15,0.13,0.12,0.12,0.13,0.14,0.14,0.15,0.15,0.15,0.13,0.1,0.05,0.03,0.0,-0.05,-0.1,-0.12,-0.15,-0.13];
const NDW_PAD_SD = [0.1,0.1,0.1,0.03,0.04,0.05,0.06,0.07,0.08,0.06,0.04,0.03,0.03,0.03,0.03,0.03,0.03,0.03,0.03,0.03,0.03,0.03,0.03,0.03,0.03,0.12,0.06,0.03];

// y-axis ranges and tick values
const Y_RANGES = [[0,0.2],[0,0.7],[0,0.1],[0,0.15],[0,0.5],[0,0.4],[0,0.4],[0,1.0],[0,1.0],[-0.4,0.6],[0,2.2],[-0.5,1.0],[0,1.0],[0,0.61],[-0.3,0.5],[-0.3,0.31]];
const Y_TICKS = [[0,0.05,0.1,0.15,0.2],[0,0.2,0.4,0.6],[0,0.03,0.06,0.09],[0,0.05,0.1,0.15],[0,0.15,0.3,0.45],[0,0.15,0.3],[0,0.15,0.3],[0,0.3,0.6,0.9],[0,0.3,0.6,0.9],[-0.4,-0.1,0.2,0.5],[0,0.6,1.2,1.8],[-0.5,-0.1,0.3,0.7],[0,0.3,0.6,0.9],[0,0.2,0.4,0.6],[-0.3,0,0.3],[-0.3,-0.1,0.1,0.3]];
const X_TICKS = [100,200,300];

// ---------- BUILD ----------
const MEANS = [
 [RED_SOY,RED_WHE,RED_MAI,RED_PAD],[NIR_SOY,NIR_WHE,NIR_MAI,NIR_PAD],[BLU_SOY,BLU_WHE,BLU_MAI,BLU_PAD],[GRN_SOY,GRN_WHE,GRN_MAI,GRN_PAD],
 [MIR_SOY,MIR_WHE,MIR_MAI,MIR_PAD],[SW1_SOY,SW1_WHE,SW1_MAI,SW1_PAD],[SW2_SOY,SW2_WHE,SW2_MAI,SW2_PAD],[NDVI_SOY,NDVI_WHE,NDVI_MAI,NDVI_PAD],
 [EVI_SOY,EVI_WHE,EVI_MAI,EVI_PAD],[LSW_SOY,LSW_WHE,LSW_MAI,LSW_PAD],[MIB_SOY,MIB_WHE,MIB_MAI,MIB_PAD],[NBR_SOY,NBR_WHE,NBR_MAI,NBR_PAD],
 [NDS_SOY,NDS_WHE,NDS_MAI,NDS_PAD],[NDT_SOY,NDT_WHE,NDT_MAI,NDT_PAD],[NDG_SOY,NDG_WHE,NDG_MAI,NDG_PAD],[NDW_SOY,NDW_WHE,NDW_MAI,NDW_PAD]
];
const SDS = [
 [RED_SOY_SD,RED_WHE_SD,RED_MAI_SD,RED_PAD_SD],[NIR_SOY_SD,NIR_WHE_SD,NIR_MAI_SD,NIR_PAD_SD],[BLU_SOY_SD,BLU_WHE_SD,BLU_MAI_SD,BLU_PAD_SD],[GRN_SOY_SD,GRN_WHE_SD,GRN_MAI_SD,GRN_PAD_SD],
 [MIR_SOY_SD,MIR_WHE_SD,MIR_MAI_SD,MIR_PAD_SD],[SW1_SOY_SD,SW1_WHE_SD,SW1_MAI_SD,SW1_PAD_SD],[SW2_SOY_SD,SW2_WHE_SD,SW2_MAI_SD,SW2_PAD_SD],[NDVI_SOY_SD,NDVI_WHE_SD,NDVI_MAI_SD,NDVI_PAD_SD],
 [EVI_SOY_SD,EVI_WHE_SD,EVI_MAI_SD,EVI_PAD_SD],[LSW_SOY_SD,LSW_WHE_SD,LSW_MAI_SD,LSW_PAD_SD],[MIB_SOY_SD,MIB_WHE_SD,MIB_MAI_SD,MIB_PAD_SD],[NBR_SOY_SD,NBR_WHE_SD,NBR_MAI_SD,NBR_PAD_SD],
 [NDS_SOY_SD,NDS_WHE_SD,NDS_MAI_SD,NDS_PAD_SD],[NDT_SOY_SD,NDT_WHE_SD,NDT_MAI_SD,NDT_PAD_SD],[NDG_SOY_SD,NDG_WHE_SD,NDG_MAI_SD,NDG_PAD_SD],[NDW_SOY_SD,NDW_WHE_SD,NDW_MAI_SD,NDW_PAD_SD]
];

const LINE_COLORS = ['rgb(232,62,62)','rgb(45,45,230)','rgb(45,215,45)','rgb(140,75,150)'];
const FILL_COLORS = ['rgba(250,95,95,0.45)','rgba(95,95,250,0.5)','rgba(90,235,90,0.5)','rgba(175,125,185,0.5)'];

const W = 1222, H = 495;
const COLS = [[71,287],[376,592],[680,897],[985,1202]];
const ROWS = [[16,98],[132,213],[247,328],[362,443]];
const FONT = '"Liberation Serif", "Times New Roman", Times, "DejaVu Serif", serif';

const traces = [];
const layout = {
  width: W, height: H, margin: {l:0,r:0,t:0,b:0},
  paper_bgcolor: '#fff', plot_bgcolor: '#fff', showlegend: false,
  font: {family: FONT, color: '#222', size: 19},
  shapes: [], annotations: []
};

INDICES.forEach((name, p) => {
  const n = p + 1;
  const xa = n === 1 ? 'x' : 'x' + n;
  const ya = n === 1 ? 'y' : 'y' + n;
  const col = COLS[p % 4], row = ROWS[Math.floor(p / 4)];
  const [lo, hi] = Y_RANGES[p];
  for (let s = 0; s < 4; s++) {
    const m = MEANS[p][s], sd = SDS[p][s];
    const up = m.map((v, i) => v + sd[i]);
    const dn = m.map((v, i) => v - sd[i]);
    traces.push({
      type: 'scatter', mode: 'lines', xaxis: xa, yaxis: ya,
      x: DAYS.concat(DAYS.slice().reverse()),
      y: up.concat(dn.slice().reverse()),
      fill: 'toself', fillcolor: FILL_COLORS[s], line: {width: 0, color: 'rgba(0,0,0,0)'},
      hoverinfo: 'skip', name: CROPS[s]
    });
    traces.push({
      type: 'scatter', mode: 'lines', xaxis: xa, yaxis: ya,
      x: DAYS, y: m, line: {color: LINE_COLORS[s], width: 1}, name: CROPS[s]
    });
  }
  layout['xaxis' + (n === 1 ? '' : n)] = {
    domain: [col[0] / W, col[1] / W], anchor: ya, range: [100, 300],
    tickvals: X_TICKS, ticktext: X_TICKS.map(String),
    showline: true, linecolor: '#9a9a9a', linewidth: 1, mirror: false,
    showgrid: false, zeroline: false, ticks: 'inside', ticklen: 3, tickcolor: '#9a9a9a',
    tickfont: {family: FONT, size: 19, color: '#222'}, fixedrange: true
  };
  layout['yaxis' + (n === 1 ? '' : n)] = {
    domain: [1 - row[1] / H, 1 - row[0] / H], anchor: xa, range: [lo, hi],
    tickvals: Y_TICKS[p], ticktext: Y_TICKS[p].map(v => v.toFixed(2)),
    showline: true, linecolor: '#9a9a9a', linewidth: 1, mirror: false,
    showgrid: false, zeroline: false, ticks: 'inside', ticklen: 3, tickcolor: '#9a9a9a',
    tickfont: {family: FONT, size: 19, color: '#222'}, fixedrange: true,
    title: {text: name, font: {family: FONT, size: 20, color: '#222'}, standoff: 6}
  };
});

// legend drawn as band + line symbols
const LEG_BAND = [[70,162],[373,465],[679,771],[985,1076]];
const LEG_TEXT = [185,505,805,1108];
CROPS.forEach((c, s) => {
  const [a, b] = LEG_BAND[s];
  layout.shapes.push({type:'rect', xref:'paper', yref:'paper', x0:a/W, x1:b/W, y0:1-494/H, y1:1-474/H,
    fillcolor: FILL_COLORS[s], line:{width:0}});
  layout.shapes.push({type:'line', xref:'paper', yref:'paper', x0:a/W, x1:b/W, y0:1-484/H, y1:1-484/H,
    line:{color: LINE_COLORS[s], width:1.2}});
  layout.annotations.push({xref:'paper', yref:'paper', x: LEG_TEXT[s]/W, y: 1-484/H, xanchor:'left', yanchor:'middle',
    text: c, showarrow:false, font:{family: FONT, size: 18, color:'#222'}});
});

Plotly.newPlot('chart', traces, layout, {staticPlot: true, displayModeBar: false});
</script>
</body>
</html>
